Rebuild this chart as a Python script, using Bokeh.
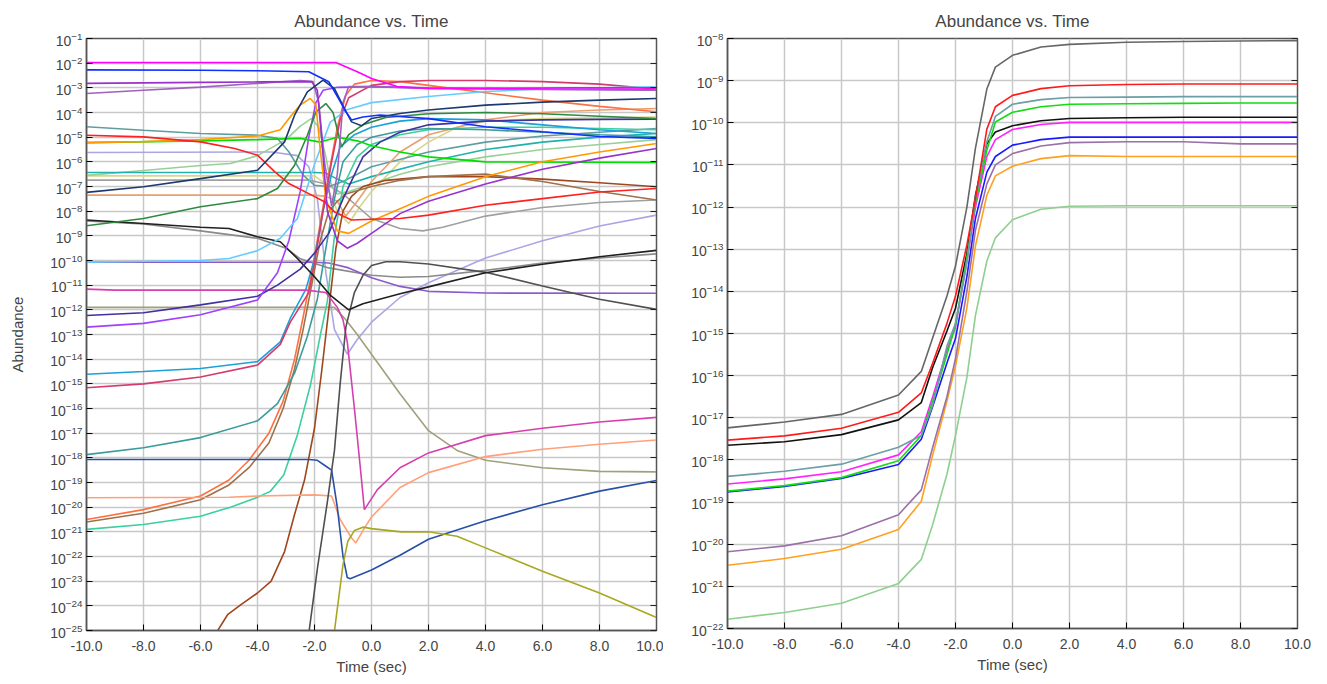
from bokeh.plotting import figure
from bokeh.layouts import row
from bokeh.models import FixedTicker, PrintfTickFormatter, LogAxis, Range1d
from bokeh.embed import file_html
from bokeh.resources import INLINE

FONT = "Liberation Sans"
TITLE = "Abundance vs. Time"
X_LABEL = "Time (sec)"
Y_LABEL = "Abundance"
x_ticks = [-10, -8, -6, -4, -2, 0, 2, 4, 6, 8, 10]
left_exponents = list(range(-25, 0))
right_exponents = list(range(-22, -7))

# ---------------- left panel: (time, log10 abundance) per species ----------------
magenta_t = [-10, -1.25, -0.5, 0, 0.9, 2, 4, 7, 10]
magenta_v = [-1.97, -1.97, -2.35, -2.62, -2.95, -3.03, -3.02, -3.0, -3.0]
blue_t = [-10, -6, -4, -2.2, -1.5, -1.1, -0.9, -0.7, -0.3, 0.3, 2, 4, 6, 8, 10]
blue_v = [-2.27, -2.29, -2.31, -2.35, -2.75, -3.55, -3.97, -4.3, -4.18, -4.1, -4.25, -4.58, -4.78, -4.97, -5.05]
navy_t = [-10, -8, -6, -4, -3.05, -2.7, -2.25, -1.7, -1.3, -0.95, -0.7, -0.35, 0, 1, 2, 4, 6, 8, 10]
navy_v = [-7.24, -7.01, -6.68, -6.34, -5.19, -4.11, -3.16, -2.69, -3.03, -3.84, -4.38, -4.54, -4.24, -4.04, -3.9, -3.7, -3.58, -3.5, -3.43]
orchid_t = [-10, -6, -4, -2.1, -1.9, -1.75, -1.55, -1.2, -0.85, -0.5, 0, 1, 2, 4, 6, 8, 10]
orchid_v = [-2.82, -2.78, -2.76, -2.75, -3.1, -5.0, -8.0, -9.2, -9.5, -9.3, -8.9, -8.1, -7.6, -6.9, -6.3, -5.85, -5.46]
purple_t = [-10, -8, -6, -4, -2.5, -2.05, -1.85, -1.65, -1.4, -1.2, -1.0, -0.8, 0, 2, 4, 7, 10]
purple_v = [-3.23, -3.1, -2.97, -2.82, -2.7, -2.75, -3.6, -6.0, -7.8, -6.5, -3.6, -2.95, -2.95, -3.02, -3.05, -3.08, -3.1]
red_t = [-10, -8, -6, -4.8, -4, -3.4, -2.9, -2.1, -1.65, -1.3, -0.7, 0, 1, 2, 4, 6, 8, 10]
red_v = [-4.92, -4.99, -5.19, -5.46, -5.73, -6.4, -6.88, -7.35, -7.62, -8.03, -8.36, -8.33, -8.3, -8.16, -7.76, -7.49, -7.22, -7.08]
green_t = [-10, -6, -4, -2.5, -1.8, -1.2, -0.5, 0, 1, 2, 4, 10]
green_v = [-5.22, -5.15, -5.1, -5.05, -5.2, -5.0, -5.15, -5.35, -5.6, -5.8, -6.0, -6.03]
orange_t = [-10, -8, -6, -4, -3.2, -2.8, -2.5, -2.15, -1.95, -1.8, -1.6, -1.2, -0.8, 0, 1, 2, 4, 6, 8, 10]
orange_v = [-5.22, -5.18, -5.1, -4.95, -4.7, -4.1, -3.7, -3.43, -3.7, -5.5, -7.5, -8.8, -8.9, -8.4, -7.9, -7.4, -6.6, -6.0, -5.6, -5.26]
cadet_t = [-10, -8, -6, -4, -3.3, -2.9, -2.4, -2.0, -1.5, -1.0, 0, 2, 4, 6, 8, 10]
cadet_v = [-4.58, -4.72, -4.85, -4.92, -5.05, -5.59, -6.54, -6.95, -7.0, -6.8, -6.2, -5.6, -5.2, -4.95, -4.8, -4.65]
lavender_t = [-10, -3.5, -2.6, -2.2, -1.9, -1.6, -1.3, -0.85, -0.5, 0, 1, 2, 4, 6, 8, 10]
lavender_v = [-5.62, -5.6, -5.75, -6.2, -7.5, -10.5, -12.8, -13.8, -13.2, -12.5, -11.5, -10.9, -9.9, -9.2, -8.6, -8.16]
seagreen_t = [-10, -2, -1.6, -1.2, -0.8, 0, 2, 4, 6, 8, 10]
seagreen_v = [-6.43, -6.43, -6.45, -6.7, -6.9, -6.6, -6.0, -5.5, -5.2, -5.0, -4.85]
khaki_t = [-10, -2, -1.6, -1.2, -0.8, -0.4, 0, 1, 2, 3, 4, 6, 10]
khaki_v = [-6.57, -6.57, -6.9, -8.0, -8.5, -7.8, -7.2, -6.0, -5.2, -4.6, -4.35, -4.25, -4.18]
gray_t = [-10, -2.2, -1.6, -1, -0.5, 0, 1, 1.8, 2.5, 4, 6, 8, 10]
gray_v = [-6.74, -6.74, -6.9, -7.3, -7.8, -8.3, -8.7, -8.8, -8.65, -8.2, -7.85, -7.65, -7.55]
sandy_t = [-10, -2, -1.6, -1.2, -0.9, -0.5, 0, 1, 2, 4, 6, 8, 10]
sandy_v = [-7.35, -7.35, -7.4, -7.6, -8.2, -7.6, -6.8, -5.6, -4.9, -4.3, -4.0, -3.9, -3.84]
black_t = [-10, -8, -6, -5, -4, -3.2, -2.6, -2, -1.45, -0.8, -0.3, 1, 2, 4, 6, 8, 10]
black_v = [-8.36, -8.5, -8.65, -8.7, -9.04, -9.24, -9.92, -10.66, -11.4, -12.0, -11.75, -11.35, -11.07, -10.5, -10.15, -9.85, -9.59]
gray2_t = [-10, -8, -6, -4, -3, -2.5, -1.5, 0, 1, 2, 4, 6, 8, 10]
gray2_v = [-8.4, -8.52, -8.8, -9.1, -9.5, -9.93, -10.3, -10.6, -10.68, -10.65, -10.4, -10.1, -9.9, -9.73]
forest_t = [-10, -8, -6, -4, -3.3, -2.7, -2.25, -1.95, -1.6, -1.35, -1.05, -0.8, -0.3, 0.5, 2, 4, 6, 8, 10]
forest_v = [-8.59, -8.3, -7.82, -7.49, -7.08, -6.14, -4.92, -3.97, -3.64, -4.0, -5.4, -4.9, -4.5, -4.2, -4.05, -4.0, -4.05, -4.15, -4.25]
skyblue_t = [-10, -6, -5, -4, -3.2, -2.6, -2.0, -1.45, -0.9, 0, 2, 4, 6, 8, 10]
skyblue_v = [-10.07, -10.0, -9.92, -9.6, -9.1, -8.3, -6.1, -4.4, -3.9, -3.6, -3.35, -3.15, -3.05, -3.0, -2.96]
mpurple_t = [-10, -2, -1.5, -0.8, 0, 1, 2, 4, 10]
mpurple_v = [-10.07, -10.07, -10.1, -10.3, -10.7, -11.05, -11.25, -11.32, -11.33]
pink_t = [-10, -9, -2.3, -1.6, -1.2, -1.0, -0.85, -0.6, -0.4, -0.25, 0.2, 1, 2, 4, 6, 8, 10]
pink_v = [-11.16, -11.2, -11.2, -11.3, -11.9, -12.4, -13.3, -16.0, -18.3, -20.1, -19.3, -18.4, -17.8, -17.1, -16.8, -16.55, -16.36]
olivegray_t = [-10, -1.3, -0.9, -0.5, 0, 1, 2, 3, 4, 6, 8, 10]
olivegray_v = [-11.9, -11.9, -12.4, -13.0, -13.8, -15.4, -16.9, -17.7, -18.1, -18.4, -18.55, -18.57]
slate_t = [-10, -8, -6, -4, -3.3, -2.5, -2.0, -1.5, -1, -0.3, 0.3, 1, 2, 4, 6, 8, 10]
slate_v = [-12.23, -12.12, -11.8, -11.45, -11.0, -10.35, -9.7, -8.9, -7.5, -5.8, -5.2, -4.8, -4.5, -4.35, -4.3, -4.28, -4.27]
violet_t = [-10, -8, -6, -4, -3.3, -2.9, -2.5, -2.2, -1.95, -1.7, -1.2, 0, 2, 4, 7, 10]
violet_v = [-12.7, -12.55, -12.2, -11.6, -10.5, -9.2, -7.2, -5.0, -3.6, -3.1, -2.98, -2.95, -3.0, -3.02, -3.05, -3.08]
cyan_t = [-10, -8, -6, -4, -3.2, -2.85, -2.3, -2.0, -1.7, -1.4, -1.1, -0.6, 0, 1, 2, 4, 6, 8, 10]
cyan_v = [-14.61, -14.5, -14.38, -14.1, -13.3, -12.34, -11.16, -9.93, -8.0, -6.5, -5.4, -4.9, -4.6, -4.35, -4.25, -4.3, -4.5, -4.7, -4.85]
crimson_t = [-10, -8, -6, -4, -3.2, -2.85, -2.2, -2.0, -1.7, -1.4, -1.1, -0.8, 0, 1, 2, 4, 6, 8, 10]
crimson_v = [-15.16, -15.0, -14.72, -14.24, -13.4, -12.5, -11.3, -10.1, -8.0, -6.0, -4.3, -3.4, -2.9, -2.75, -2.7, -2.7, -2.75, -2.85, -3.05]
teal_t = [-10, -8, -6, -4, -3.3, -2.7, -2.25, -1.9, -1.6, -1.3, -1.0, -0.5, 0, 1, 2, 4, 6, 8, 10]
teal_v = [-17.87, -17.59, -17.18, -16.5, -15.8, -14.57, -13.07, -11.56, -9.5, -7.5, -6.0, -5.3, -5.0, -4.75, -4.65, -4.7, -4.8, -4.9, -4.99]
royal_t = [-10, -2.2, -1.9, -1.65, -1.4, -1.2, -1.0, -0.85, -0.75, 0, 1, 2, 4, 6, 8, 10]
royal_v = [-18.07, -18.07, -18.1, -18.3, -18.5, -20.0, -22.0, -22.85, -22.9, -22.55, -21.95, -21.3, -20.55, -19.9, -19.35, -18.92]
lsalmon_t = [-10, -5, -4, -2, -1.4, -1.1, -0.7, -0.55, -0.25, 0, 1, 2, 4, 6, 8, 10]
lsalmon_v = [-19.62, -19.6, -19.55, -19.5, -19.55, -20.5, -21.25, -21.45, -20.85, -20.4, -19.2, -18.6, -17.95, -17.65, -17.45, -17.28]
coral_t = [-10, -8, -6, -5, -4.3, -3.6, -3.1, -2.7, -2.4, -2.1, -1.8, -1.5, -1.2, -0.9, -0.6, 0, 1, 2, 4, 6, 8, 10]
coral_v = [-20.5, -20.1, -19.55, -18.9, -18.1, -17.0, -15.7, -14.0, -12.3, -10.5, -8.5, -6.5, -4.6, -3.3, -2.85, -2.7, -2.75, -2.9, -3.2, -3.5, -3.75, -3.97]
brown_t = [-10, -8, -6, -5, -4.3, -3.6, -3.1, -2.7, -2.4, -2.1, -1.8, -1.5, -1.2, -0.9, 0, 1, 2, 4, 6, 8, 10]
brown_v = [-20.6, -20.25, -19.7, -19.1, -18.4, -17.4, -16.0, -14.4, -12.8, -11.0, -9.2, -8.0, -7.6, -7.3, -7.0, -6.75, -6.6, -6.5, -6.8, -7.2, -7.55]
aqua_t = [-10, -8, -6, -4.95, -4, -3.55, -3.08, -2.6, -2.14, -1.79, -1.55, -1.3, -1.0, -0.5, 0, 1, 2, 4, 6, 8, 10]
aqua_v = [-20.9, -20.7, -20.37, -20.0, -19.6, -19.36, -18.7, -17.07, -15.04, -13.0, -11.66, -9.0, -7.0, -5.8, -5.3, -4.9, -4.7, -4.6, -4.6, -4.65, -4.7]
sienna_t = [-5.45, -5.05, -4.58, -4.0, -3.52, -3.05, -2.7, -2.35, -2.0, -1.75, -1.5, -1.25, -1.0, -0.7, -0.3, 0.5, 2, 4, 6, 8, 10]
sienna_v = [-25.1, -24.36, -23.95, -23.48, -23.0, -21.8, -20.3, -18.9, -16.8, -14.5, -12.0, -9.5, -8.0, -7.4, -7.0, -6.75, -6.6, -6.6, -6.7, -6.85, -7.01]
dgray_t = [-2.22, -1.9, -1.55, -1.3, -1.1, -0.9, -0.6, -0.3, 0, 0.5, 1, 2, 4, 6, 8, 10]
dgray_v = [-25.3, -22.5, -19.8, -17.7, -15.0, -12.7, -11.3, -10.6, -10.2, -10.05, -10.05, -10.14, -10.48, -11.03, -11.57, -11.98]
olive_t = [-1.32, -1.12, -1.0, -0.83, -0.6, -0.3, 0, 1.04, 2, 3, 4, 6, 8, 10]
olive_v = [-25.2, -23.4, -22.33, -21.38, -20.95, -20.81, -20.87, -21.0, -21.0, -21.18, -21.65, -22.6, -23.48, -24.47]
palegreen_t = [-10, -8, -6, -4.95, -4, -3, -2.5, -2.1, -1.85, -1.6, -1.4, -1.2, -0.8, 0, 1, 2, 4, 6, 8, 10]
palegreen_v = [-6.55, -6.35, -6.15, -6.07, -5.75, -5.1, -4.55, -4.24, -4.6, -5.8, -7.0, -7.3, -7.2, -6.9, -6.5, -6.2, -5.8, -5.5, -5.3, -5.1]

left_series = [
    (lavender_t, lavender_v, "#aaa6e6"), (khaki_t, khaki_v, "#d6d68c"), (gray_t, gray_v, "#a0a0a0"),
    (palegreen_t, palegreen_v, "#98d098"), (olivegray_t, olivegray_v, "#a0a07c"), (gray2_t, gray2_v, "#8a8a8a"),
    (mpurple_t, mpurple_v, "#8a5cc8"), (cadet_t, cadet_v, "#5f9ea0"), (seagreen_t, seagreen_v, "#20b2aa"),
    (sandy_t, sandy_v, "#e8a070"), (sienna_t, sienna_v, "#a0461e"), (brown_t, brown_v, "#a0704a"),
    (coral_t, coral_v, "#ff7040"), (aqua_t, aqua_v, "#3ccfa0"), (teal_t, teal_v, "#3a9c9c"),
    (cyan_t, cyan_v, "#1ca0d8"), (crimson_t, crimson_v, "#d63a6a"), (pink_t, pink_v, "#d63fae"),
    (lsalmon_t, lsalmon_v, "#ffa07a"), (royal_t, royal_v, "#2850a8"), (olive_t, olive_v, "#a8a820"),
    (dgray_t, dgray_v, "#505050"), (black_t, black_v, "#202020"), (slate_t, slate_v, "#4030a0"),
    (violet_t, violet_v, "#a040ff"), (skyblue_t, skyblue_v, "#66ccff"), (forest_t, forest_v, "#2e8b3e"),
    (green_t, green_v, "#00dd00"), (orange_t, orange_v, "#ff9900"), (red_t, red_v, "#ff2020"),
    (purple_t, purple_v, "#a060c0"), (orchid_t, orchid_v, "#9932cc"), (navy_t, navy_v, "#1c3a6e"),
    (blue_t, blue_v, "#1030ff"), (magenta_t, magenta_v, "#ff00ff"),
]

# ---------------- right panel: shared time grid, log10 abundance ----------------
right_t = [-10, -8, -6, -4, -3.2, -2.8, -2.3, -2.0, -1.6, -1.3, -0.9, -0.6, 0, 1, 2, 4, 6, 8, 10]
r_gray = [-17.24, -17.1, -16.92, -16.46, -15.9, -15.1, -14.11, -13.4, -12.0, -10.6, -9.2, -8.68, -8.4, -8.2, -8.14, -8.09, -8.07, -8.06, -8.05]
r_red = [-17.53, -17.43, -17.25, -16.87, -16.41, -15.7, -14.76, -14.11, -12.9, -11.8, -10.15, -9.62, -9.35, -9.19, -9.12, -9.09, -9.08, -9.08, -9.08]
r_teal = [-18.39, -18.27, -18.1, -17.7, -17.42, -16.7, -15.3, -14.76, -13.3, -11.8, -10.45, -9.85, -9.56, -9.45, -9.4, -9.39, -9.38, -9.38, -9.38]
r_green = [-18.74, -18.61, -18.42, -18.02, -17.42, -16.6, -15.5, -14.8, -13.2, -11.9, -10.65, -9.98, -9.75, -9.62, -9.56, -9.55, -9.54, -9.53, -9.53]
r_black = [-17.65, -17.57, -17.4, -17.05, -16.64, -15.8, -14.94, -14.4, -13.1, -11.72, -10.5, -10.22, -10.07, -9.95, -9.9, -9.88, -9.87, -9.87, -9.87]
r_magenta = [-18.57, -18.45, -18.28, -17.88, -17.33, -16.5, -15.4, -14.85, -13.3, -12.0, -10.8, -10.4, -10.16, -10.04, -9.99, -9.99, -9.99, -9.99, -9.99]
r_blue = [-18.76, -18.63, -18.44, -18.11, -17.51, -16.73, -15.7, -15.12, -13.65, -12.27, -11.17, -10.8, -10.53, -10.4, -10.34, -10.34, -10.34, -10.34, -10.34]
r_purple = [-20.18, -20.04, -19.8, -19.3, -18.71, -17.7, -16.5, -15.6, -14.0, -12.55, -11.45, -11.0, -10.73, -10.55, -10.47, -10.45, -10.45, -10.5, -10.5]
r_orange = [-20.5, -20.34, -20.12, -19.65, -18.98, -17.88, -16.6, -15.77, -14.39, -12.92, -11.72, -11.26, -11.03, -10.85, -10.78, -10.8, -10.8, -10.8, -10.8]
r_lightgreen = [-21.78, -21.62, -21.4, -20.93, -20.36, -19.53, -18.34, -17.42, -16.04, -14.57, -13.28, -12.73, -12.3, -12.05, -11.98, -11.97, -11.97, -11.97, -11.97]

right_series = [
    (r_lightgreen, "#8fcf8f"), (r_orange, "#ffa020"), (r_purple, "#9a70a8"), (r_blue, "#1a1aff"),
    (r_magenta, "#ff22ff"), (r_black, "#111111"), (r_green, "#11dd11"), (r_teal, "#6a9fa5"),
    (r_red, "#ff1a1a"), (r_gray, "#666666"),
]


def make_panel(exponents, border_left, border_right, top, frame_h, bottom, ylabel):
    ticks = [float("1e%d" % e) for e in exponents]
    p = figure(frame_width=570, frame_height=frame_h, x_range=Range1d(-10, 10),
               y_range=Range1d(ticks[0], ticks[-1]), y_axis_type="log",
               output_backend="svg", toolbar_location=None, title=TITLE,
               min_border_left=border_left, min_border_right=border_right,
               min_border_top=top, min_border_bottom=bottom, background_fill_color="white",
               border_fill_color="white")
    p.title.align = "center"
    p.title.text_font = FONT
    p.title.text_font_size = "17px"
    p.title.text_font_style = "normal"
    p.title.text_color = "#444444"
    p.title.standoff = 16
    p.outline_line_color = "#555555"
    p.outline_line_width = 1.5

    ra = LogAxis(ticker=FixedTicker(ticks=ticks, minor_ticks=[]),
                 formatter=PrintfTickFormatter(format=" "),
                 major_label_text_font_size="1px", major_label_text_alpha=0.0,
                 major_label_standoff=0, major_tick_in=6, major_tick_out=0,
                 major_tick_line_color="#222222", axis_line_color="#555555",
                 minor_tick_line_color=None)
    p.add_layout(ra, "right")

    yax = p.yaxis[0]
    yax.ticker = FixedTicker(ticks=ticks, minor_ticks=[])
    yax.major_label_text_font = FONT
    yax.major_label_text_font_size = "14px"
    yax.major_label_text_color = "#444444"
    yax.major_label_standoff = 4
    yax.major_tick_in = 6
    yax.major_tick_out = 0
    yax.minor_tick_line_color = None
    yax.axis_line_color = "#555555"
    yax.axis_line_width = 1.5
    if ylabel:
        yax.axis_label = ylabel
        yax.axis_label_text_font = FONT
        yax.axis_label_text_font_size = "15px"
        yax.axis_label_text_font_style = "normal"
        yax.axis_label_text_color = "#444444"
        yax.axis_label_standoff = 21

    xax = p.xaxis[0]
    xax.ticker = FixedTicker(ticks=x_ticks, minor_ticks=[])
    xax.formatter = PrintfTickFormatter(format="%.1f")
    xax.major_label_text_font = FONT
    xax.major_label_text_font_size = "14px"
    xax.major_label_text_color = "#444444"
    xax.major_label_standoff = 10
    xax.major_tick_in = 6
    xax.major_tick_out = 0
    xax.minor_tick_line_color = None
    xax.axis_line_color = "#555555"
    xax.axis_line_width = 1.5
    xax.axis_label = X_LABEL
    xax.axis_label_text_font = FONT
    xax.axis_label_text_font_size = "15px"
    xax.axis_label_text_font_style = "normal"
    xax.axis_label_text_color = "#444444"
    xax.axis_label_standoff = 4

    p.xgrid.grid_line_color = "#c8c8c8"
    p.ygrid.grid_line_color = "#c8c8c8"
    p.xgrid.grid_line_width = 1.5
    p.ygrid.grid_line_width = 1.5
    return p


left = make_panel(left_exponents, 86, 7, 37, 592, 55, Y_LABEL)
for t, v, c in left_series:
    left.line(t, [10.0 ** e for e in v], line_color=c, line_width=1.6)

right = make_panel(right_exponents, 64, 30, 38, 590, 56, None)
for v, c in right_series:
    right.line(right_t, [10.0 ** e for e in v], line_color=c, line_width=1.6)

layout = row(left, right)
open("out.html", "w").write(file_html(layout, INLINE))
